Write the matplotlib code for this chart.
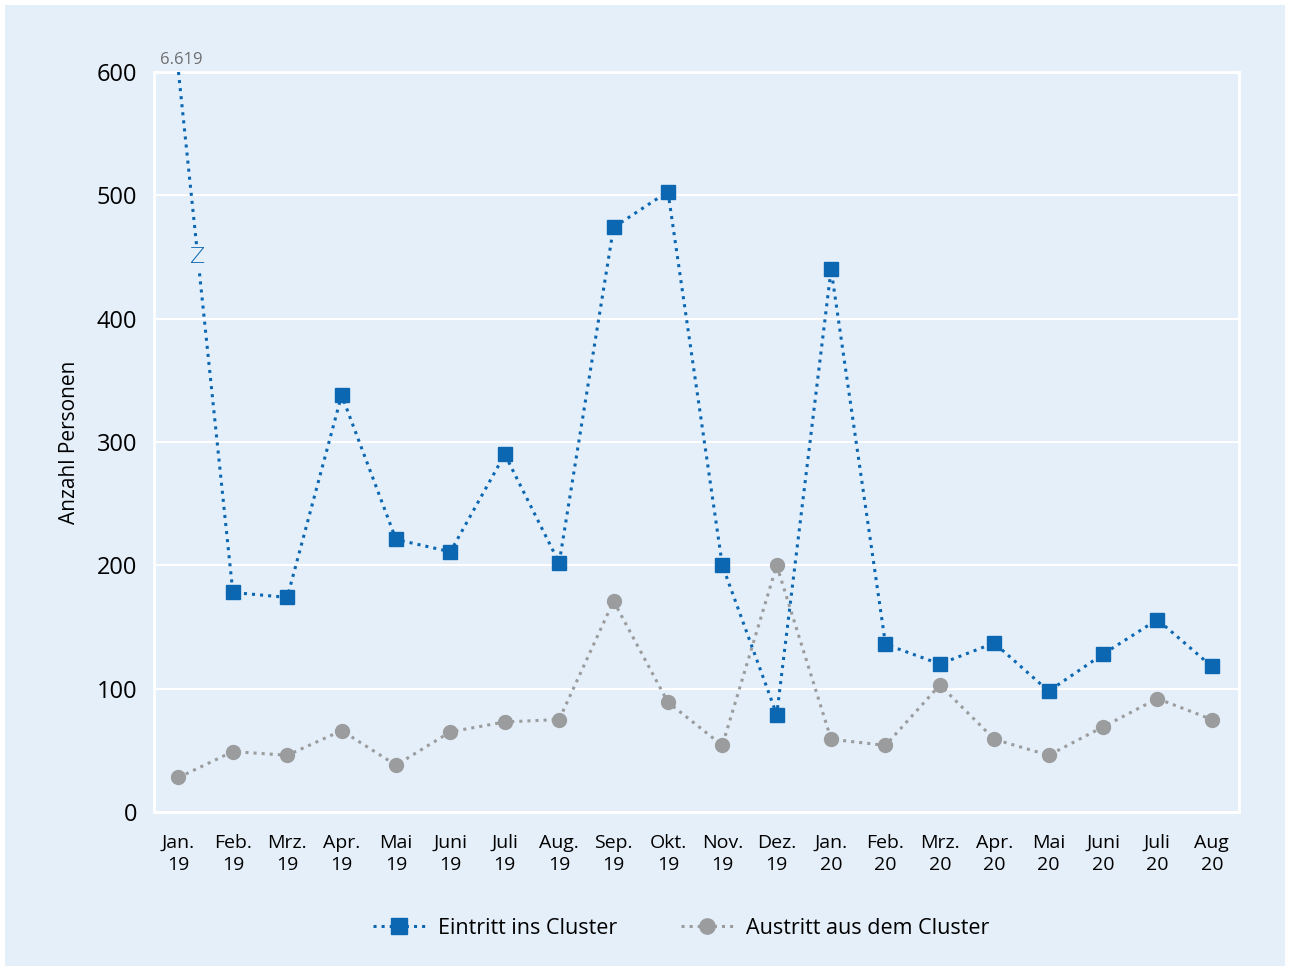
import numpy as np
import matplotlib
matplotlib.use("Agg")
import matplotlib.pyplot as plt
from matplotlib.lines import Line2D
from matplotlib.patches import Rectangle

plt.rcParams['font.family'] = ['Liberation Sans Narrow', 'Open Sans', 'DejaVu Sans']

monate = ["Jan.", "Feb.", "Mrz.", "Apr.", "Mai", "Juni", "Juli", "Aug.",
          "Sep.", "Okt.", "Nov.", "Dez.", "Jan.", "Feb.", "Mrz.", "Apr.",
          "Mai", "Juni", "Juli", "Aug"]
jahre = ["19"] * 12 + ["20"] * 8
eintritt = [6619, 178, 174, 338, 221, 211, 290, 202, 474, 503, 200, 79,
            440, 136, 120, 137, 98, 128, 156, 118]
austritt = [28, 49, 46, 66, 38, 65, 73, 75, 171, 89, 54, 200,
            59, 54, 103, 59, 46, 69, 92, 75]

YMAX = 600
bg = "#e5eff9"
blau = "#0b67b2"
grau = "#9a9c9e"

fig = plt.figure(figsize=(12.9, 9.71), dpi=100, facecolor="white")
fig.patches.append(Rectangle((5 / 1290, 5 / 971), 1 - 10 / 1290, 1 - 10 / 971,
                             transform=fig.transFigure, facecolor=bg,
                             edgecolor="none", zorder=-10))
ax = fig.add_axes([154 / 1290, 1 - 812 / 971, (1239 - 154) / 1290, (812 - 72) / 971])
ax.set_facecolor(bg)

x = np.arange(len(monate))
# der Januarwert liegt weit über der Skala: Linie endet am oberen Rand
ein_plot = np.minimum(eintritt, YMAX)

ax.plot(x, austritt, linestyle=":", color=grau, lw=2.2, marker="o",
        markersize=10, markerfacecolor=grau, markeredgecolor=grau, zorder=3)
ax.plot(x, ein_plot, linestyle=":", color=blau, lw=2.2, marker="s",
        markersize=10, markerfacecolor=blau, markeredgecolor=blau,
        markevery=list(range(1, len(x))), zorder=4, clip_on=False)

# Achsenbruch auf dem ersten Segment
t = 0.355
bx = x[0] + t * (x[1] - x[0])
by = ein_plot[0] + t * (ein_plot[1] - ein_plot[0])
ax.text(bx, by, "Z", color=blau, fontsize=16, ha="center", va="center",
        family="DejaVu Sans", fontweight="light", zorder=5,
        bbox=dict(facecolor=bg, edgecolor="none", pad=1.5))
ax.text(x[0] + 0.05, YMAX + 3, f"{eintritt[0]:,}".replace(",", "."),
        color="#6d6e70", fontsize=12, ha="center", va="bottom")

ax.set_xlim(-0.45, 19.5)
ax.set_ylim(0, YMAX)
ax.set_yticks(range(0, YMAX + 1, 100))
ax.set_xticks(x)
ax.set_xticklabels([f"{m}\n{j}" for m, j in zip(monate, jahre)], fontsize=14,
                   linespacing=1.3)
ax.tick_params(axis="y", labelsize=17, length=0, pad=12)
ax.tick_params(axis="x", length=0, pad=16)
ax.grid(axis="y", color="white", lw=1.5)
ax.set_axisbelow(True)
for s in ax.spines.values():
    s.set_color("white")
    s.set_linewidth(2)
ax.set_ylabel("Anzahl Personen", fontsize=15, labelpad=12)

handles = [
    Line2D([], [], linestyle=":", color=blau, lw=2.2, marker="s", markersize=11,
           markerfacecolor=blau, markeredgecolor=blau),
    Line2D([], [], linestyle=":", color=grau, lw=2.2, marker="o", markersize=11,
           markerfacecolor=grau, markeredgecolor=grau),
]
fig.legend(handles, ["Eintritt ins Cluster", "Austritt aus dem Cluster"],
           loc="center", bbox_to_anchor=(0.528, 1 - 928 / 971), ncol=2,
           frameon=False, fontsize=15.5, columnspacing=3.0, handlelength=2.4,
           handletextpad=0.6)

fig.savefig("out.png", dpi=100, facecolor="white")
